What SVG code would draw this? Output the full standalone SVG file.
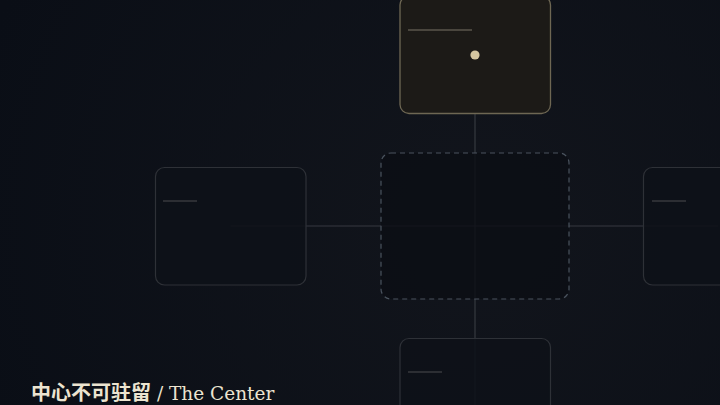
<svg xmlns="http://www.w3.org/2000/svg" width="720" height="405" viewBox="0 0 720 405">
<defs>
<radialGradient id="bg" cx="475" cy="226" r="520" gradientUnits="userSpaceOnUse">
<stop offset="0" stop-color="#12151c"/>
<stop offset="1" stop-color="#0a0e16"/>
</radialGradient>
<style>
.link{stroke:#363940;stroke-width:1.2;fill:none}
.node{fill:#0e1118;fill-opacity:0.88;stroke:#2e3137;stroke-width:1.2}
.bar{stroke:#2c2e33;stroke-width:2}
</style>
</defs>
<rect width="720" height="405" fill="url(#bg)"/>
<g id="connectors">
<line class="link" x1="230.5" y1="226" x2="475" y2="226"/>
<line class="link" x1="475" y1="226" x2="718" y2="226"/>
<line class="link" x1="475" y1="55" x2="475" y2="226"/>
<line class="link" x1="475" y1="226" x2="475" y2="405"/>
</g>
<g id="center">
<rect x="381" y="153" width="188" height="146" rx="10" fill="#0b0e14" fill-opacity="0.8" stroke="#4a535e" stroke-width="1.2" stroke-dasharray="5 4"/>
</g>
<g id="node-left">
<rect class="node" x="155.5" y="167.5" width="150.5" height="117.5" rx="9"/>
<line class="bar" x1="163" y1="201" x2="197" y2="201"/>
</g>
<g id="node-right">
<rect class="node" x="643.5" y="167.5" width="150.5" height="117.5" rx="9"/>
<line class="bar" x1="652" y1="201" x2="686" y2="201"/>
</g>
<g id="node-bottom">
<rect class="node" x="400" y="338.5" width="150.5" height="117.5" rx="9"/>
<line class="bar" x1="408" y1="372" x2="442" y2="372"/>
</g>
<g id="node-top">
<rect x="400" y="-4" width="150.5" height="117.5" rx="9" fill="#1c1a17" stroke="#6e6753" stroke-width="1.3"/>
<line x1="408" y1="30" x2="472" y2="30" stroke="#4a463e" stroke-width="2"/>
<circle cx="475" cy="55" r="4.6" fill="#d5c6a0"/>
</g>
<text x="31" y="400" font-size="20" fill="#ece4d0"><tspan font-family="Noto Sans CJK SC, sans-serif" font-weight="700">中心不可驻留</tspan><tspan font-family="DejaVu Serif, serif" font-size="18.5"> / The Center</tspan></text>
</svg>
